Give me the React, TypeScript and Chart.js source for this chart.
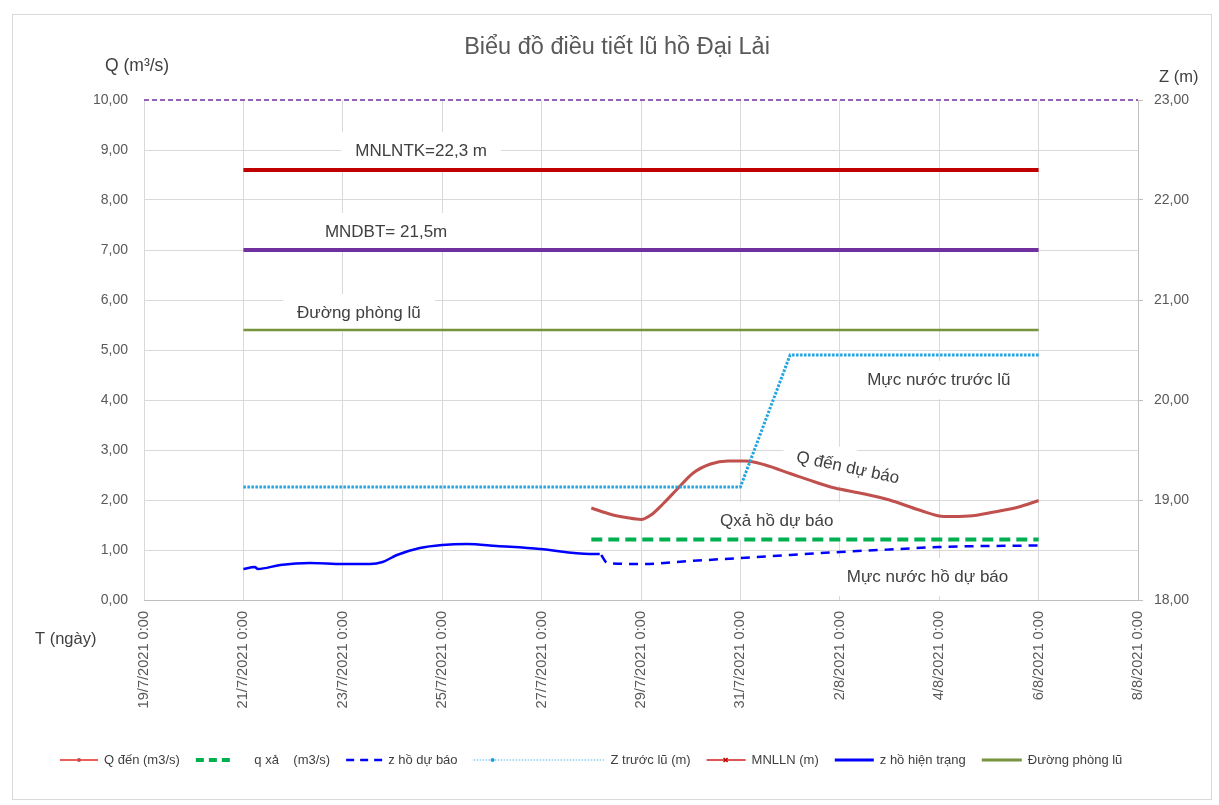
import React, { useEffect, useRef } from 'react';
import { Chart, registerables } from 'chart.js';

Chart.register(...registerables);

// x values are days counted from 19/7/2021 0:00
const dateTickLabels = [
  '19/7/2021 0:00', '21/7/2021 0:00', '23/7/2021 0:00', '25/7/2021 0:00', '27/7/2021 0:00',
  '29/7/2021 0:00', '31/7/2021 0:00', '2/8/2021 0:00', '4/8/2021 0:00', '6/8/2021 0:00', '8/8/2021 0:00',
];
const qTickLabels = ['0,00', '1,00', '2,00', '3,00', '4,00', '5,00', '6,00', '7,00', '8,00', '9,00', '10,00'];
const zTickLabels = ['18,00', '19,00', '20,00', '21,00', '22,00', '23,00'];

// Q đến (m3/s) – left axis
const qDenDays = [9, 9.4, 9.7, 10, 10.2, 10.45, 10.75, 11.05, 11.4, 11.75, 12.1, 12.5, 13, 13.5, 13.9, 14.4, 15, 15.6, 16.1, 16.6, 17.1, 17.6, 18];
const qDenValues = [1.84, 1.71, 1.65, 1.61, 1.7, 1.93, 2.24, 2.54, 2.72, 2.78, 2.78, 2.7, 2.53, 2.36, 2.24, 2.14, 2.0, 1.8, 1.67, 1.68, 1.76, 1.86, 1.99];

// q xả (m3/s) – left axis
const qXaDays = [9, 18];
const qXaValues = [1.21, 1.21];

// z hồ dự báo (m) – right axis
const zDuBaoDays = [9.2, 9.32, 10, 11, 12, 13, 14, 15, 16, 17, 18];
const zDuBaoValues = [18.45, 18.37, 18.36, 18.39, 18.42, 18.45, 18.48, 18.505, 18.53, 18.54, 18.545];

// Z trước lũ (m) – right axis
const zTruocLuDays = [2, 12, 13, 18];
const zTruocLuValues = [19.13, 19.13, 20.45, 20.45];

// MNLLN (m) – right axis
const mnllnDays = [2, 18];
const mnllnValues = [22.3, 22.3];

// MNDBT (m) – right axis
const mndbtDays = [2, 18];
const mndbtValues = [21.5, 21.5];

// z hồ hiện trạng (m) – right axis
const zHienTrangDays = [2.0, 2.23, 2.29, 2.74, 3.34, 4.0, 4.55, 4.8, 5.09, 5.55, 6.0, 6.5, 7.1, 7.97, 8.97, 9.17];
const zHienTrangValues = [18.31, 18.33, 18.31, 18.35, 18.37, 18.36, 18.36, 18.38, 18.45, 18.52, 18.55, 18.56, 18.54, 18.51, 18.46, 18.46];

// Đường phòng lũ (m) – right axis
const phongLuDays = [2, 18];
const phongLuValues = [20.7, 20.7];

// upper limit line (m) – right axis
const topLineDays = [0, 20];
const topLineValues = [23, 23];

const FONT = '"Liberation Sans", Arial, sans-serif';

const pts = (xs: number[], ys: number[]) => xs.map((x, i) => ({ x, y: ys[i] }));

const annotations = [
  { text: 'MNLNTK=22,3 m', day: 4.25, q: 8.98, angle: 0 },
  { text: 'MNDBT= 21,5m', day: 3.64, q: 7.36, angle: 0 },
  { text: 'Đường phòng lũ', day: 3.08, q: 5.74, angle: 0 },
  { text: 'Mực nước trước lũ', day: 14.55, q: 4.4, angle: 0 },
  { text: 'Q đến dự báo', day: 14.16, q: 2.64, angle: 12, center: true },
  { text: 'Qxả hồ dự báo', day: 11.59, q: 1.58, angle: 0 },
  { text: 'Mực nước hồ dự báo', day: 14.14, q: 0.46, angle: 0 },
];

const legendItems = [
  { label: 'Q đến (m3/s)', color: '#EE5E5A', width: 2, dash: [] as number[], marker: 'dot', markerColor: '#C0504D', len: 38 },
  { label: '    q xả    (m3/s)', color: '#00B050', width: 4, dash: [8, 5], marker: '', markerColor: '', len: 38 },
  { label: 'z hồ dự báo', color: '#0000FF', width: 2.5, dash: [8, 6], marker: '', markerColor: '', len: 36 },
  { label: 'Z trước lũ (m)', color: '#8CCFF2', width: 1.5, dash: [1.5, 1.5], marker: 'dot', markerColor: '#1E9FE0', len: 131 },
  { label: 'MNLLN (m)', color: '#E05555', width: 2, dash: [], marker: 'x', markerColor: '#C00000', len: 39 },
  { label: 'z hồ hiện trạng', color: '#0000FF', width: 3, dash: [], marker: '', markerColor: '', len: 39 },
  { label: 'Đường phòng lũ', color: '#77933C', width: 3, dash: [], marker: '', markerColor: '', len: 40 },
];

const LABEL_SIZE = 17;

const overlayPlugin = {
  id: 'overlay',
  beforeDatasetsDraw(chart: any) {
    const ctx = chart.ctx as CanvasRenderingContext2D;
    const xs = chart.scales.x;
    const ys = chart.scales.y;
    ctx.save();
    ctx.font = `${LABEL_SIZE}px ${FONT}`;
    annotations.forEach((a) => {
      const px = xs.getPixelForValue(a.day);
      const py = ys.getPixelForValue(a.q);
      const w = ctx.measureText(a.text).width;
      ctx.save();
      ctx.translate(px, py);
      ctx.rotate((a.angle * Math.PI) / 180);
      ctx.fillStyle = '#ffffff';
      const left = a.center ? -w / 2 : 0;
      ctx.fillRect(left - 14, -19, w + 28, 38);
      ctx.restore();
    });
    ctx.restore();
  },
  afterDraw(chart: any) {
    const ctx = chart.ctx as CanvasRenderingContext2D;
    const xs = chart.scales.x;
    const ys = chart.scales.y;
    ctx.save();
    // annotations
    ctx.font = `${LABEL_SIZE}px ${FONT}`;
    ctx.fillStyle = '#404040';
    ctx.textBaseline = 'middle';
    annotations.forEach((a) => {
      const px = xs.getPixelForValue(a.day);
      const py = ys.getPixelForValue(a.q);
      ctx.save();
      ctx.translate(px, py);
      ctx.rotate((a.angle * Math.PI) / 180);
      ctx.textAlign = a.center ? 'center' : 'left';
      ctx.fillText(a.text, 0, 0);
      ctx.restore();
    });

    // title
    ctx.fillStyle = '#595959';
    ctx.font = `23.5px ${FONT}`;
    ctx.textAlign = 'center';
    ctx.fillText('Biểu đồ điều tiết lũ hồ Đại Lải', 604, 33);

    // axis titles
    ctx.textAlign = 'left';
    ctx.fillStyle = '#404040';
    ctx.font = `17.5px ${FONT}`;
    ctx.fillText('Q (m³/s)', 92, 51);
    ctx.font = `16.5px ${FONT}`;
    ctx.fillText('Z (m)', 1146, 62);
    ctx.fillText('T (ngày)', 22, 624);

    // legend
    ctx.font = `13px ${FONT}`;
    let lx = 47;
    const ly = 745;
    legendItems.forEach((it) => {
      ctx.save();
      ctx.strokeStyle = it.color;
      ctx.lineWidth = it.width;
      ctx.setLineDash(it.dash);
      ctx.beginPath();
      ctx.moveTo(lx, ly);
      ctx.lineTo(lx + it.len, ly);
      ctx.stroke();
      ctx.setLineDash([]);
      const mx = lx + 19;
      if (it.marker === 'dot') {
        ctx.fillStyle = it.markerColor;
        ctx.beginPath();
        ctx.arc(mx, ly, 2, 0, Math.PI * 2);
        ctx.fill();
      } else if (it.marker === 'x') {
        ctx.strokeStyle = it.markerColor;
        ctx.lineWidth = 1.5;
        ctx.beginPath();
        ctx.moveTo(mx - 2, ly - 2);
        ctx.lineTo(mx + 2, ly + 2);
        ctx.moveTo(mx + 2, ly - 2);
        ctx.lineTo(mx - 2, ly + 2);
        ctx.stroke();
      }
      ctx.restore();
      ctx.fillStyle = '#404040';
      ctx.textAlign = 'left';
      ctx.textBaseline = 'middle';
      const tx = lx + it.len + 6;
      ctx.fillText(it.label, tx, ly);
      lx = tx + ctx.measureText(it.label).width + 16;
    });
    ctx.restore();
  },
};

export default function App() {
  const ref = useRef<HTMLCanvasElement>(null);

  useEffect(() => {
    if (!ref.current) return;
    const chart = new Chart(ref.current, {
      type: 'line',
      data: {
        datasets: [
          {
            label: 'Z trước lũ (m)',
            data: pts(zTruocLuDays, zTruocLuValues),
            yAxisID: 'y2',
            borderColor: '#22A4E2',
            borderWidth: 3,
            borderDash: [2.5, 1.5],
            pointRadius: 0,
            tension: 0,
            order: 1,
          },
          {
            label: 'Q đến (m3/s)',
            data: pts(qDenDays, qDenValues),
            yAxisID: 'y',
            borderColor: '#C0504D',
            borderWidth: 3,
            pointRadius: 0,
            cubicInterpolationMode: 'monotone',
            order: 2,
          },
          {
            label: 'q xả (m3/s)',
            data: pts(qXaDays, qXaValues),
            yAxisID: 'y',
            borderColor: '#00B050',
            borderWidth: 4,
            borderDash: [11, 6],
            pointRadius: 0,
            order: 3,
          },
          {
            label: 'z hồ dự báo',
            data: pts(zDuBaoDays, zDuBaoValues),
            yAxisID: 'y2',
            borderColor: '#0000FF',
            borderWidth: 2.5,
            borderDash: [9, 7],
            pointRadius: 0,
            cubicInterpolationMode: 'monotone',
            order: 4,
          },
          {
            label: 'z hồ hiện trạng',
            data: pts(zHienTrangDays, zHienTrangValues),
            yAxisID: 'y2',
            borderColor: '#0000FF',
            borderWidth: 2.5,
            pointRadius: 0,
            cubicInterpolationMode: 'monotone',
            order: 5,
          },
          {
            label: 'MNLLN (m)',
            data: pts(mnllnDays, mnllnValues),
            yAxisID: 'y2',
            borderColor: '#C00000',
            borderWidth: 4,
            pointRadius: 0,
            order: 6,
          },
          {
            label: 'MNDBT',
            data: pts(mndbtDays, mndbtValues),
            yAxisID: 'y2',
            borderColor: '#7030A0',
            borderWidth: 4,
            pointRadius: 0,
            order: 7,
          },
          {
            label: 'Đường phòng lũ',
            data: pts(phongLuDays, phongLuValues),
            yAxisID: 'y2',
            borderColor: '#77933C',
            borderWidth: 2.5,
            pointRadius: 0,
            order: 8,
          },
          {
            label: 'top',
            data: pts(topLineDays, topLineValues),
            yAxisID: 'y2',
            borderColor: '#7030A0',
            borderWidth: 1.5,
            borderDash: [5, 3],
            pointRadius: 0,
            clip: 4,
            order: 9,
          },
        ],
      },
      options: {
        animation: false,
        responsive: false,
        maintainAspectRatio: false,
        layout: { padding: { top: 85, left: 0, right: 0, bottom: 0 } },
        plugins: {
          legend: { display: false },
          title: { display: false },
          tooltip: { enabled: false },
        },
        scales: {
          x: {
            type: 'linear',
            position: 'bottom',
            min: 0,
            max: 20,
            afterFit: (s: any) => {
              s.height = 199;
            },
            ticks: {
              stepSize: 2,
              autoSkip: false,
              minRotation: 90,
              maxRotation: 90,
              padding: 11,
              color: '#595959',
              font: { family: FONT, size: 14.6 },
              callback: (v: any) => dateTickLabels[Math.round(Number(v) / 2)] ?? '',
            },
            grid: { color: '#d9d9d9', drawTicks: false, lineWidth: 1 },
            border: { display: true, color: '#bfbfbf' },
          },
          y: {
            type: 'linear',
            position: 'left',
            min: 0,
            max: 10,
            afterFit: (s: any) => {
              s.width = 131;
            },
            ticks: {
              stepSize: 1,
              padding: 16,
              color: '#595959',
              font: { family: FONT, size: 14 },
              callback: (v: any) => qTickLabels[Math.round(Number(v))] ?? '',
            },
            grid: {
              drawTicks: false,
              color: (c: any) => (c.tick && c.tick.value === 10 ? 'rgba(0,0,0,0)' : '#d9d9d9'),
            },
            border: { display: false },
          },
          y2: {
            type: 'linear',
            position: 'right',
            min: 18,
            max: 23,
            afterFit: (s: any) => {
              s.width = 73;
            },
            ticks: {
              stepSize: 1,
              padding: 11,
              color: '#595959',
              font: { family: FONT, size: 14 },
              callback: (v: any) => zTickLabels[Math.round(Number(v) - 18)] ?? '',
            },
            grid: { drawOnChartArea: false, drawTicks: true, tickLength: 5, color: '#bfbfbf' },
            border: { display: true, color: '#bfbfbf' },
          },
        },
      } as any,
      plugins: [overlayPlugin],
    });
    return () => chart.destroy();
  }, []);

  return (
    <div
      style={{
        position: 'absolute',
        left: 12,
        top: 14,
        width: 1198,
        height: 784,
        border: '1px solid #d9d9d9',
        background: '#ffffff',
      }}
    >
      <canvas ref={ref} width={1198} height={784} style={{ display: 'block' }} />
    </div>
  );
}
